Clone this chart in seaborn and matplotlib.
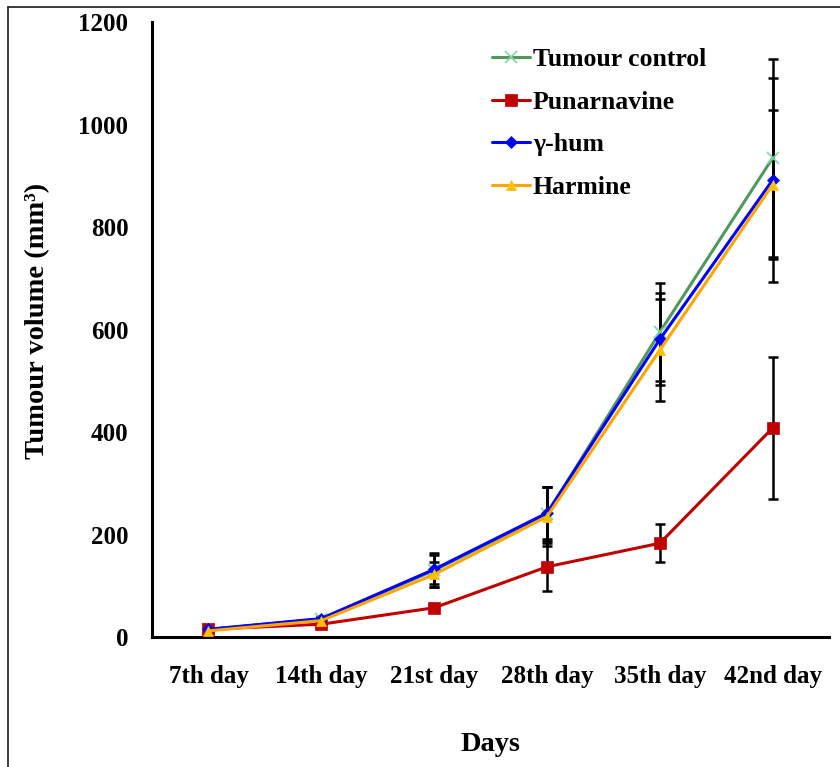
import matplotlib
matplotlib.use("Agg")
import matplotlib.pyplot as plt
from matplotlib.lines import Line2D
import numpy as np
import pandas as pd
import seaborn as sns

days = ["7th day", "14th day", "21st day", "28th day", "35th day", "42nd day"]
groups = ["Tumour control", "Punarnavine", "\u03b3-hum", "Harmine"]

control_mean = [15, 35, 130, 240, 595, 935]
control_err = [3, 5, 33, 53, 96, 193]
punarnavine_mean = [15, 25, 57, 137, 183, 408]
punarnavine_err = [3, 4, 6, 47, 37, 139]
ghum_mean = [15, 36, 132, 242, 581, 892]
ghum_err = [3, 5, 28, 50, 90, 200]
harmine_mean = [12, 32, 122, 235, 560, 883]
harmine_err = [3, 5, 25, 57, 100, 145]

means = [control_mean, punarnavine_mean, ghum_mean, harmine_mean]
errs = [control_err, punarnavine_err, ghum_err, harmine_err]

colors = {"Tumour control": "#4F9A5B", "Punarnavine": "#C00000",
          "\u03b3-hum": "#0000FF", "Harmine": "#FFA500"}
markers = {"Tumour control": "x", "Punarnavine": "s",
           "\u03b3-hum": "D", "Harmine": "^"}
msizes = {"Tumour control": 9, "Punarnavine": 9, "\u03b3-hum": 6, "Harmine": 7}
mfc = {"Tumour control": "#7FD6A0", "Punarnavine": "#C00000",
       "\u03b3-hum": "#0000FF", "Harmine": "#FFC000"}

rows = []
for g, m, e in zip(groups, means, errs):
    for i, d in enumerate(days):
        rows.append({"group": g, "day": d, "x": i, "volume": m[i], "err": e[i]})
df = pd.DataFrame(rows)

sns.set_style("white")
plt.rcParams["font.family"] = ["Liberation Serif", "DejaVu Serif"]
plt.rcParams["font.weight"] = "bold"
for key in ["text.color", "axes.labelcolor", "xtick.color", "ytick.color"]:
    plt.rcParams[key] = "black"

fig = plt.figure(figsize=(8.4, 7.67), dpi=100)
ax = fig.add_axes([0.181, 0.1695, 0.806, 0.8015])

# error bars behind the lines
for g in groups:
    sub = df[df.group == g]
    ax.errorbar(sub["x"], sub["volume"], yerr=sub["err"], fmt="none",
                ecolor="black", elinewidth=1.8, capsize=3.6, capthick=1.8, zorder=1)

for g in groups:
    sub = df[df.group == g]
    sns.lineplot(data=sub, x="x", y="volume", ax=ax, color=colors[g],
                 marker=markers[g], markersize=msizes[g],
                 markerfacecolor=mfc[g],
                 markeredgecolor=mfc[g],
                 markeredgewidth=1.2 if g == "Tumour control" else 0.5,
                 linewidth=2.2, label=g, zorder=3, errorbar=None)

ax.set_xlim(-0.5, 5.5)
ax.set_ylim(0, 1200)
ax.set_yticks(np.arange(0, 1201, 200))
ax.set_xticks(np.arange(-0.5, 5.6, 1.0))
ax.set_xticklabels([])
ax.set_xticks(np.arange(0, 6), minor=True)
ax.set_xticklabels(days, minor=True)
ax.tick_params(axis="x", which="major", direction="out", length=7, width=2, color="black")
ax.tick_params(axis="x", which="minor", length=0, pad=20, labelsize=18, labelcolor="black")
ax.tick_params(axis="y", direction="out", length=7, width=2, color="black", labelsize=18,
               pad=10, labelcolor="black")
for lbl in ax.get_xticklabels(minor=True) + ax.get_yticklabels():
    lbl.set_fontweight("bold")

for side in ["top", "right"]:
    ax.spines[side].set_visible(False)
for side in ["left", "bottom"]:
    ax.spines[side].set_linewidth(2.2)
    ax.spines[side].set_color("black")

ax.set_xlabel("Days", fontsize=20.5, fontweight="bold", labelpad=31.5, color="black")
ax.set_ylabel("Tumour volume (mm\u00b3)", fontsize=20.5, fontweight="bold", color="black")
ax.yaxis.set_label_coords(-0.151, 0.514)

leg = ax.legend(loc="upper left", bbox_to_anchor=(0.475, 0.987), frameon=False,
                fontsize=18.5, handlelength=1.5, labelspacing=0.76, handletextpad=0.1,
                borderpad=0.2)
for t in leg.get_texts():
    t.set_fontweight("bold")
    t.set_color("black")

# frame lines along the top and left of the figure
fig.add_artist(Line2D([8 / 840, 1.0], [1 - 7 / 767, 1 - 7 / 767], transform=fig.transFigure,
                      color="#1a1a1a", linewidth=1.2))
fig.add_artist(Line2D([8 / 840, 8 / 840], [0.0, 1 - 7 / 767], transform=fig.transFigure,
                      color="#1a1a1a", linewidth=1.2))

fig.savefig("out.png", dpi=100)
